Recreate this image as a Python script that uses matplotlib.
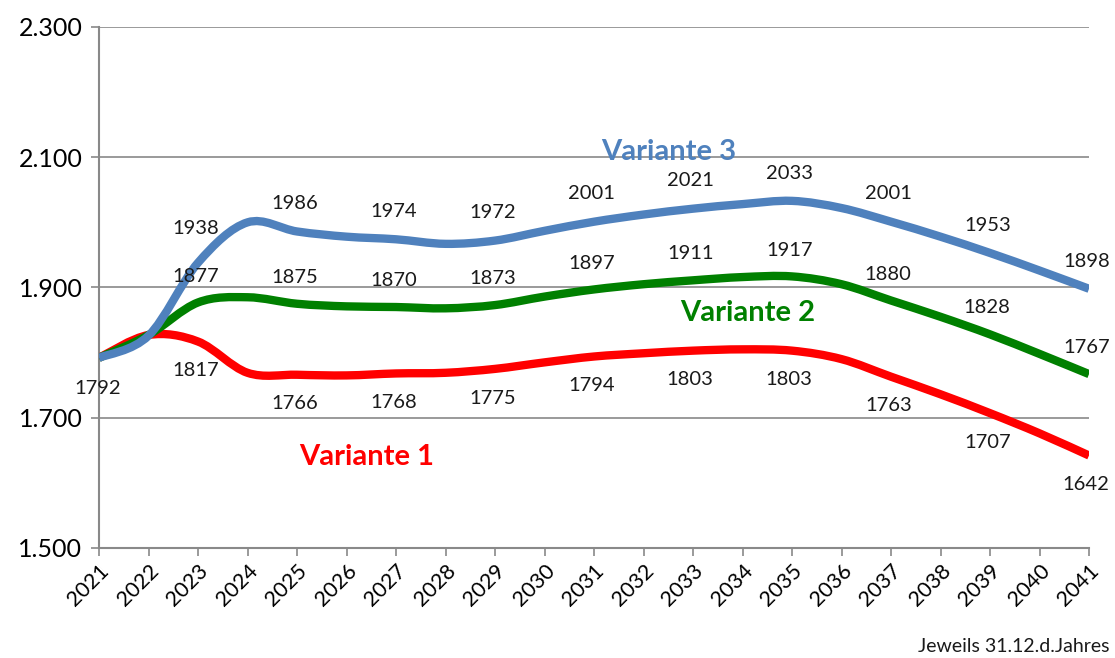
import matplotlib
matplotlib.use("Agg")
import matplotlib.pyplot as plt
from matplotlib.path import Path
from matplotlib.patches import PathPatch

years = list(range(2021, 2042))
variante_1 = [1792, 1827, 1817, 1769, 1766, 1765, 1768, 1769, 1775, 1785, 1794,
              1799, 1803, 1805, 1803, 1790, 1763, 1736, 1707, 1676, 1642]
variante_2 = [1792, 1827, 1877, 1885, 1875, 1871, 1870, 1868, 1873, 1886, 1897,
              1905, 1911, 1916, 1917, 1905, 1880, 1855, 1828, 1798, 1767]
variante_3 = [1792, 1826, 1938, 2000, 1986, 1978, 1974, 1967, 1972, 1987, 2001,
              2012, 2021, 2028, 2033, 2022, 2001, 1978, 1953, 1926, 1898]
y_ticks = [1500, 1700, 1900, 2100, 2300]
y_tick_labels = ["1.500", "1.700", "1.900", "2.100", "2.300"]
series_names = ["Variante 1", "Variante 2", "Variante 3"]
footnote = "Jeweils 31.12.d.Jahres"

colors = ["#FF0000", "#008000", "#4F81BD"]
FONT = "Lato"

fig = plt.figure(figsize=(11.15, 6.58), dpi=100)
ax = fig.add_axes([0.0888, 0.1672, 0.8879, 0.7918])


def smooth_path(xs, ys):
    n = len(xs)
    verts = [(xs[0], ys[0])]
    codes = [Path.MOVETO]
    for i in range(n - 1):
        x0, y0 = xs[max(i - 1, 0)], ys[max(i - 1, 0)]
        x1, y1 = xs[i], ys[i]
        x2, y2 = xs[i + 1], ys[i + 1]
        x3, y3 = xs[min(i + 2, n - 1)], ys[min(i + 2, n - 1)]
        c1 = (x1 + (x2 - x0) / 6.0, y1 + (y2 - y0) / 6.0)
        c2 = (x2 - (x3 - x1) / 6.0, y2 - (y3 - y1) / 6.0)
        verts += [c1, c2, (x2, y2)]
        codes += [Path.CURVE4] * 3
    return Path(verts, codes)


for vals, col in zip([variante_1, variante_2, variante_3], colors):
    patch = PathPatch(smooth_path(years, vals), facecolor="none", edgecolor=col,
                      lw=6, capstyle="butt", joinstyle="round", zorder=3)
    ax.add_patch(patch)

ax.set_xlim(2021, 2041)
ax.set_ylim(1500, 2300)
ax.set_yticks(y_ticks)
ax.set_yticklabels(y_tick_labels, fontsize=18, family=FONT)
ax.set_xticks(years)
ax.set_xticklabels([str(y) for y in years], rotation=45, ha="right",
                   rotation_mode="anchor", fontsize=15.5, family=FONT)
ax.tick_params(axis="both", direction="out", length=6, color="#898989", width=1.2)
ax.tick_params(axis="x", pad=3)
ax.tick_params(axis="y", pad=6)
for s in ["top", "right"]:
    ax.spines[s].set_visible(False)
for s in ["left", "bottom"]:
    ax.spines[s].set_color("#898989")
    ax.spines[s].set_linewidth(1.5)
ax.yaxis.grid(True, color="#898989", lw=1.2)
ax.set_axisbelow(True)

# data labels every other year
lab_kw = dict(fontsize=14.5, family=FONT, ha="center", va="center",
              textcoords="offset points", color="#1a1a1a", zorder=5)
for i in range(0, len(years), 2):
    x = years[i]
    if i == 0:
        ax.annotate(str(variante_1[i]), (x, variante_1[i]), xytext=(-1, -22), **lab_kw)
        continue
    off3 = 25 if x == 2023 else 20
    ax.annotate(str(variante_3[i]), (x, variante_3[i]), xytext=(-2, off3), **lab_kw)
    ax.annotate(str(variante_2[i]), (x, variante_2[i]), xytext=(-2, 19), **lab_kw)
    ax.annotate(str(variante_1[i]), (x, variante_1[i]), xytext=(-2, -21), **lab_kw)

ax.text(2032.5, 2108, series_names[2], color=colors[2], fontsize=21,
        fontweight="bold", family=FONT, ha="center", va="center", zorder=6)
ax.text(2034.1, 1861, series_names[1], color=colors[1], fontsize=21,
        fontweight="bold", family=FONT, ha="center", va="center", zorder=6)
ax.text(2026.4, 1640, series_names[0], color=colors[0], fontsize=21,
        fontweight="bold", family=FONT, ha="center", va="center", zorder=6)

fig.text(0.995, 0.017, footnote, fontsize=14, family=FONT, ha="right",
         va="center", color="#1a1a1a")

fig.savefig("out.png", dpi=100)
